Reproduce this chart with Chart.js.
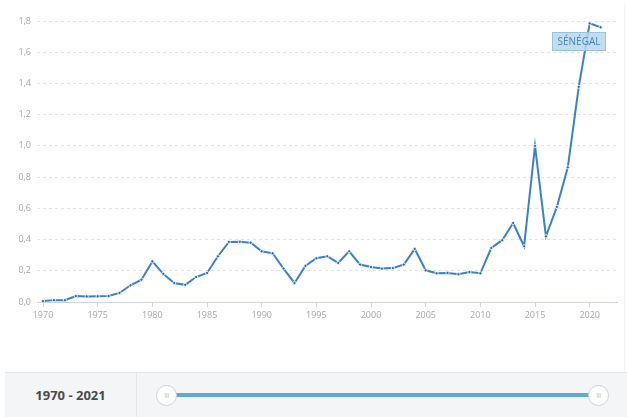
<!DOCTYPE html>
<html><head><meta charset="utf-8">
<script src="https://cdn.jsdelivr.net/npm/chart.js@4"></script>
<style>
html,body{margin:0;padding:0;background:#fff;width:627px;height:417px;overflow:hidden;font-family:"Open Sans",sans-serif;}
#wrap{position:absolute;left:0;top:0;width:627px;height:372px;}
#rborder{position:absolute;left:624px;top:4px;width:1px;height:368px;background:#eef0f2;}
#band{position:absolute;left:5px;top:372px;width:622px;height:45px;background:#f3f5f7;border-top:1px solid #e2e6ea;}
#range{position:absolute;left:0;top:0;width:131px;height:45px;border-right:1px solid #e2e6ea;font-weight:700;font-size:13px;color:#4a4a4a;line-height:45px;text-align:center;}
#track{position:absolute;left:161px;top:20px;width:432px;height:4px;background:#5ea9dc;border-radius:2px;}
.h{position:absolute;top:12px;width:19px;height:19px;border-radius:50%;background:#fff;border:1px solid #cfd4d8;font-size:7px;color:#bbb;text-align:center;line-height:19px;letter-spacing:-0.5px;}
</style></head>
<body>
<div id="wrap"><canvas id="c" width="627" height="372"></canvas></div>
<div id="rborder"></div>
<div id="band"><div id="range">1970 - 2021</div><div id="track"></div><div class="h" style="left:151px">III</div><div class="h" style="left:583px">III</div></div>
<script>
const years = [1970,1971,1972,1973,1974,1975,1976,1977,1978,1979,1980,1981,1982,1983,1984,1985,1986,1987,1988,1989,1990,1991,1992,1993,1994,1995,1996,1997,1998,1999,2000,2001,2002,2003,2004,2005,2006,2007,2008,2009,2010,2011,2012,2013,2014,2015,2016,2017,2018,2019,2020,2021];
const values = [0.006,0.012,0.012,0.038,0.036,0.037,0.038,0.058,0.107,0.143,0.26,0.18,0.122,0.11,0.16,0.186,0.293,0.385,0.386,0.38,0.325,0.312,0.214,0.122,0.231,0.28,0.293,0.25,0.325,0.24,0.224,0.214,0.217,0.24,0.34,0.203,0.184,0.186,0.178,0.192,0.184,0.346,0.396,0.506,0.357,1.0,0.421,0.609,0.863,1.378,1.785,1.76];
const xTicks = [1970,1975,1980,1985,1990,1995,2000,2005,2010,2015,2020];
const countryLabel = "SÉNÉGAL";

const labelPlugin = {
  id:'countryLabel',
  afterDatasetsDraw(chart){
    const {ctx, scales:{x,y}} = chart;
    const cx = x.getPixelForValue(2019.0), top = y.getPixelForValue(1.73);
    ctx.save();
    ctx.font = '10px "Open Sans", sans-serif';
    const w = Math.round(ctx.measureText(countryLabel).width + 10), h = 18;
    const left = Math.round(cx - w/2);
    ctx.fillStyle = 'rgba(182,215,235,0.85)';
    ctx.strokeStyle = '#96c4e0';
    ctx.lineWidth = 1;
    ctx.fillRect(left+0.5, Math.round(top)+0.5, w, h);
    ctx.strokeRect(left+0.5, Math.round(top)+0.5, w, h);
    ctx.fillStyle = '#4485b8';
    ctx.textAlign = 'center'; ctx.textBaseline = 'middle';
    ctx.fillText(countryLabel, left + w/2 + 0.5, Math.round(top) + h/2 + 1);
    ctx.restore();
  }
};

new Chart(document.getElementById('c'), {
  type:'line',
  data:{ datasets:[{ data: years.map((yr,i)=>({x:yr,y:values[i]})),
    borderColor:'#3b82c4', borderWidth:2, tension:0,
    pointRadius:1.6, pointBorderWidth:0.8, pointBorderColor:'#ffffff', pointBackgroundColor:'#2c6aa3' }]},
  options:{
    responsive:false, animation:false,
    layout:{padding:{top:21,right:10,left:0,bottom:0}},
    plugins:{legend:{display:false}, tooltip:{enabled:false}},
    scales:{
      x:{ type:'linear', min:1969.45, max:2022.5,
        afterBuildTicks(s){ s.ticks = xTicks.map(v=>({value:v})); },
        afterFit(s){ s.height = 70; },
        ticks:{ autoSkip:false, maxRotation:0, padding:3, color:'#a8a8a8', font:{family:'"Open Sans", sans-serif', size:9}, callback:v=>String(v)},
        grid:{ drawOnChartArea:false, drawTicks:true, tickLength:5, color:'#ccd6eb' },
        border:{ display:true, color:'#ccd6eb', width:1 }
      },
      y:{ min:0, max:1.8,
        afterFit(s){ s.width = 37; },
        ticks:{ stepSize:0.2, padding:6, color:'#a8a8a8', font:{family:'"Open Sans", sans-serif', size:9}, callback:v=>v.toFixed(1).replace('.',',')},
        grid:{ drawTicks:false, color:c=> c.tick && Math.abs(c.tick.value)<1e-9 ? 'rgba(0,0,0,0)' : '#e3e3e3', lineWidth:1 },
        border:{ display:false, dash:[3,3] }
      }
    }
  },
  plugins:[labelPlugin]
});
</script>
</body></html>
